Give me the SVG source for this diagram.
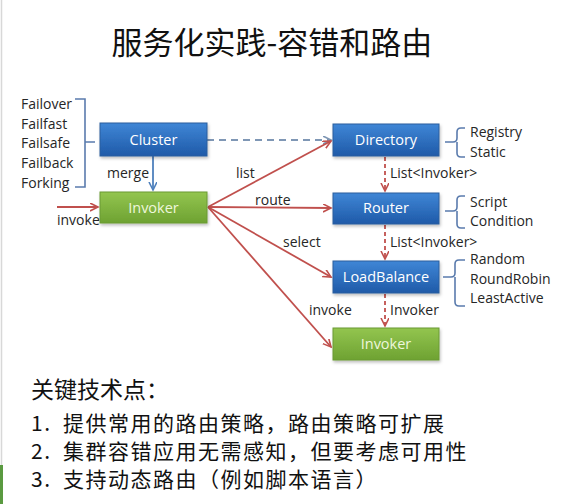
<svg xmlns="http://www.w3.org/2000/svg" width="566" height="504" viewBox="0 0 566 504">
<defs>
<linearGradient id="gBlue" x1="0" y1="0" x2="0" y2="1">
<stop offset="0" stop-color="#3f86d6"/>
<stop offset="1" stop-color="#1f5aa8"/>
</linearGradient>
<linearGradient id="gGreen" x1="0" y1="0" x2="0" y2="1">
<stop offset="0" stop-color="#93c54f"/>
<stop offset="1" stop-color="#6ea232"/>
</linearGradient>
<filter id="sh" x="-10%" y="-20%" width="130%" height="160%">
<feDropShadow dx="1" dy="2" stdDeviation="1.5" flood-color="#000" flood-opacity="0.25"/>
</filter>
<marker id="aRed" markerWidth="10" markerHeight="10" refX="8" refY="4" orient="auto" markerUnits="userSpaceOnUse">
<path d="M0,0 L8,4 L0,8" fill="none" stroke="#c0504d" stroke-width="1.6"/>
</marker>
<marker id="aBlue" markerWidth="10" markerHeight="10" refX="8" refY="4" orient="auto" markerUnits="userSpaceOnUse">
<path d="M0,0 L8,4 L0,8" fill="none" stroke="#4f81bd" stroke-width="1.6"/>
</marker>
<marker id="aGray" markerWidth="10" markerHeight="10" refX="8" refY="4" orient="auto" markerUnits="userSpaceOnUse">
<path d="M0,0 L8,4 L0,8" fill="none" stroke="#7f97b5" stroke-width="1.6"/>
</marker>
</defs>
<style>
.lbl{font-family:"Open Sans","Noto Sans",sans-serif;font-size:14px;fill:#262626}
.box-t{font-family:"Open Sans","Noto Sans",sans-serif;font-size:14.5px;text-anchor:middle}
.blue{fill:url(#gBlue);stroke:#2a5e9e;stroke-width:1}
.green{fill:url(#gGreen);stroke:#6a9a34;stroke-width:1}
.red{stroke:#c0504d;stroke-width:1.8;fill:none;marker-end:url(#aRed)}
.redd{stroke:#c0504d;stroke-width:1.8;fill:none;stroke-dasharray:4,3;marker-end:url(#aRed)}
.brk{stroke:#5a7bad;stroke-width:1.6;fill:none}
.cjk{font-family:"Noto Sans CJK SC","Noto Sans",sans-serif;fill:#111}
.note{font-size:21px;letter-spacing:1.5px}
</style>
<rect width="566" height="504" fill="#ffffff"/>
<line x1="1.5" y1="0" x2="1.5" y2="504" stroke="#d8d8d8" stroke-width="1.5"/>
<rect x="0" y="465" width="3" height="39" fill="#5a9a40"/>

<text class="cjk" x="272" y="54" font-size="31" text-anchor="middle">服务化实践-容错和路由</text>

<g id="connectors">
<line x1="207" y1="140" x2="331" y2="140" stroke="#7f97b5" stroke-width="1.8" stroke-dasharray="7,5" marker-end="url(#aGray)"/>
<line x1="153" y1="156" x2="153" y2="190" stroke="#4f81bd" stroke-width="1.8" marker-end="url(#aBlue)"/>
<line x1="57" y1="207" x2="98" y2="207" class="red"/>
<line x1="208" y1="207" x2="331" y2="141" class="red"/>
<line x1="208" y1="207" x2="331" y2="208" class="red"/>
<line x1="208" y1="207" x2="331" y2="277" class="red"/>
<line x1="208" y1="207" x2="331" y2="347" class="red"/>
<line x1="385" y1="157" x2="385" y2="191" class="redd"/>
<line x1="385" y1="225" x2="385" y2="259" class="redd"/>
<line x1="385" y1="294" x2="385" y2="326" class="redd"/>
<text class="lbl" x="107" y="178">merge</text>
<text class="lbl" x="57" y="225">invoke</text>
<text class="lbl" x="236" y="178">list</text>
<text class="lbl" x="255" y="205">route</text>
<text class="lbl" x="283" y="247">select</text>
<text class="lbl" x="309" y="315">invoke</text>
<text class="lbl" x="390" y="178">List&lt;Invoker&gt;</text>
<text class="lbl" x="390" y="247">List&lt;Invoker&gt;</text>
<text class="lbl" x="390" y="315">Invoker</text>
</g>

<g id="cluster-strategies">
<path class="brk" d="M75,99 H85 V187 H75 M85,142 H95"/>
<text class="lbl" x="21" y="109">Failover</text>
<text class="lbl" x="21" y="129">Failfast</text>
<text class="lbl" x="21" y="148">Failsafe</text>
<text class="lbl" x="21" y="168">Failback</text>
<text class="lbl" x="21" y="188">Forking</text>
</g>

<g id="cluster">
<rect class="blue" x="100" y="123" width="107" height="33" filter="url(#sh)"/>
<text class="box-t" x="153.5" y="145" fill="#ffffff">Cluster</text>
</g>
<g id="invoker-left">
<rect class="green" x="100" y="192" width="107" height="31" filter="url(#sh)"/>
<text class="box-t" x="153.5" y="213" fill="#eef7dc">Invoker</text>
</g>
<g id="directory">
<rect class="blue" x="333" y="124" width="106" height="32" filter="url(#sh)"/>
<text class="box-t" x="386" y="145" fill="#ffffff">Directory</text>
</g>
<g id="router">
<rect class="blue" x="333" y="193" width="106" height="31" filter="url(#sh)"/>
<text class="box-t" x="386" y="213" fill="#ffffff">Router</text>
</g>
<g id="loadbalance">
<rect class="blue" x="333" y="261" width="106" height="32" filter="url(#sh)"/>
<text class="box-t" x="386" y="282" fill="#ffffff">LoadBalance</text>
</g>
<g id="invoker-bottom">
<rect class="green" x="333" y="328" width="106" height="32" filter="url(#sh)"/>
<text class="box-t" x="386" y="349" fill="#eef7dc">Invoker</text>
</g>

<g id="directory-types">
<path class="brk" d="M445,142 H453 Q457,142 457,138 V132 Q457,128 461,128 H465 M457,142 V153 Q457,157 461,157 H465"/>
<text class="lbl" x="470" y="137">Registry</text>
<text class="lbl" x="470" y="157">Static</text>
</g>
<g id="router-types">
<path class="brk" d="M445,211 H453 Q457,211 457,207 V200 Q457,196 461,196 H465 M457,211 V224 Q457,228 461,228 H465"/>
<text class="lbl" x="470" y="207">Script</text>
<text class="lbl" x="470" y="226">Condition</text>
</g>
<g id="loadbalance-types">
<path class="brk" d="M443,277 H451 Q455,277 455,273 V264 Q455,260 459,260 H465 M455,277 V302 Q455,306 459,306 H465"/>
<text class="lbl" x="470" y="264">Random</text>
<text class="lbl" x="470" y="284">RoundRobin</text>
<text class="lbl" x="470" y="303">LeastActive</text>
</g>

<g id="notes">
<text class="cjk" x="31" y="398" font-size="23">关键技术点：</text>
<text class="cjk note" x="31" y="431">1.</text>
<text class="cjk note" x="63" y="431">提供常用的路由策略，路由策略可扩展</text>
<text class="cjk note" x="31" y="459">2.</text>
<text class="cjk note" x="63" y="459">集群容错应用无需感知，但要考虑可用性</text>
<text class="cjk note" x="31" y="487">3.</text>
<text class="cjk note" x="63" y="487">支持动态路由（例如脚本语言）</text>
</g>
</svg>
